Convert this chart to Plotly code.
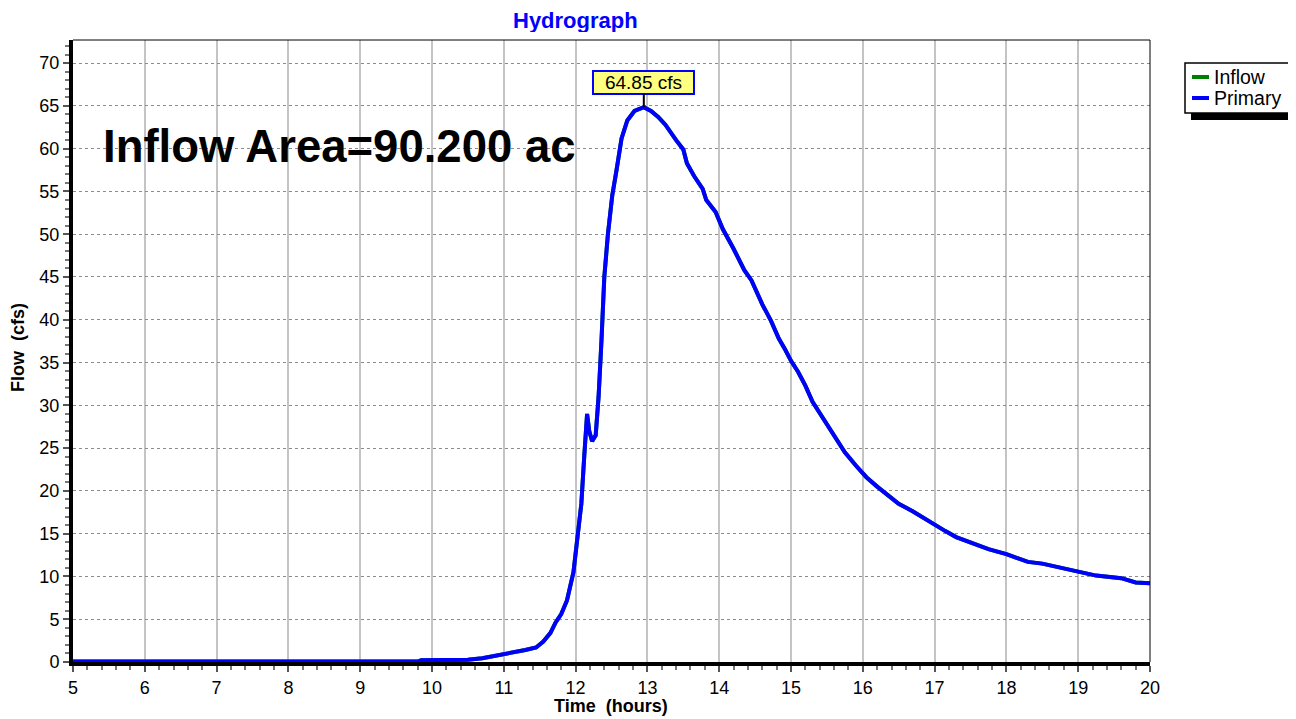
import plotly.graph_objects as go

# hydrograph (time in hours, flow in cfs)
time_hr = [5.0, 9.8, 9.85, 10.5, 10.7, 10.9, 11.1, 11.3, 11.45, 11.55, 11.65, 11.72,
           11.8, 11.88, 11.97, 12.03, 12.08, 12.12, 12.16, 12.19, 12.23, 12.28, 12.32,
           12.36, 12.40, 12.45, 12.51, 12.57, 12.64, 12.72, 12.82, 12.95, 13.05, 13.15,
           13.25, 13.4, 13.5, 13.55, 13.65, 13.77, 13.82, 13.95, 14.05, 14.2, 14.35,
           14.45, 14.6, 14.72, 14.83, 14.92, 15.0, 15.1, 15.2, 15.3, 15.45, 15.6, 15.75,
           15.9, 16.05, 16.2, 16.35, 16.5, 16.7, 16.85, 17.0, 17.15, 17.3, 17.5, 17.75,
           18.0, 18.15, 18.3, 18.5, 18.75, 19.0, 19.25, 19.6, 19.8, 20.0]
flow_cfs = [0.05, 0.05, 0.2, 0.25, 0.45, 0.75, 1.1, 1.4, 1.7, 2.4, 3.4, 4.6,
            5.6, 7.2, 10.5, 14.5, 18.5, 24.0, 29.0, 27.0, 25.8, 26.5, 31.0,
            37.5, 45.0, 50.0, 54.5, 57.5, 61.2, 63.3, 64.4, 64.85, 64.4, 63.7,
            62.8, 61.0, 59.9, 58.3, 56.8, 55.3, 54.0, 52.6, 50.6, 48.3, 45.8,
            44.6, 41.8, 39.9, 37.8, 36.5, 35.2, 33.9, 32.3, 30.4, 28.5, 26.5, 24.5,
            23.0, 21.6, 20.5, 19.5, 18.5, 17.6, 16.8, 16.1, 15.3, 14.6, 14.0, 13.2,
            12.6, 12.2, 11.7, 11.5, 11.0, 10.5, 10.1, 9.8, 9.3, 9.2]

series_names = ["Inflow", "Primary"]
series_colors = ["#008000", "#0000ff"]

peak_time = 12.95
peak_flow = 64.85

FONT = "Arial, Liberation Sans, sans-serif"

# plot area in screen pixels; the page body adds an 8px offset
OFF = 8
L, R, T, B = 73, 1150, 40, 662
W, H = 1296 - OFF, 719 - OFF


def px_x(p):
    return (p - L) / (R - L)


def px_y(p):
    return (B - p) / (B - T)


def label(text, x, y, size, color="black", angle=0, xanchor="center", height=None):
    fig.add_annotation(x=px_x(x), y=px_y(y), xref="paper", yref="paper",
                       xanchor=xanchor, yanchor="middle", text=text, showarrow=False,
                       textangle=angle, height=height, borderpad=0,
                       font=dict(family=FONT, size=size, color=color))


fig = go.Figure()

# inflow sits underneath primary (same hydrograph), so only primary shows
for name, color in zip(series_names, series_colors):
    fig.add_trace(go.Scatter(x=time_hr, y=flow_cfs, mode="lines", name=name,
                             line=dict(color=color, width=4), showlegend=False))

# peak label
fig.add_annotation(
    x=peak_time, y=peak_flow, xref="x", yref="y",
    text="64.85 cfs", showarrow=True, arrowhead=0, arrowwidth=2, arrowcolor="black",
    ax=0, ay=-25, width=97, height=19,
    bgcolor="#ffff80", bordercolor="#0000ff", borderwidth=2, borderpad=1,
    font=dict(family=FONT, size=19, color="black"),
)

# big area label, title and axis titles
label("<b>Inflow Area=90.200 ac</b>", 102, 147, 45.5, xanchor="left")
label("<b>Hydrograph</b>", 575, 20, 22, color="#0000ff", height=24)
label("<b>Time  (hours)</b>", 611, 706, 18)
label("<b>Flow  (cfs)</b>", 18, 348, 18, angle=-90)

# thin frame on top/right
fig.add_shape(type="line", xref="paper", yref="paper", x0=0, x1=1, y0=1, y1=1,
              line=dict(color="black", width=1))
fig.add_shape(type="line", xref="paper", yref="paper", x0=1, x1=1, y0=0, y1=1,
              line=dict(color="black", width=1))

# legend box with drop shadow
fig.add_shape(type="rect", xref="paper", yref="paper",
              x0=px_x(1191), x1=px_x(1297), y0=px_y(120), y1=px_y(69),
              fillcolor="black", line=dict(width=0))
fig.add_shape(type="rect", xref="paper", yref="paper",
              x0=px_x(1185), x1=px_x(1290), y0=px_y(113), y1=px_y(63),
              fillcolor="white", line=dict(color="black", width=1.5))
for i, (name, color) in enumerate(zip(series_names, series_colors)):
    row_y = 77 + 21 * i
    fig.add_shape(type="line", xref="paper", yref="paper",
                  x0=px_x(1192), x1=px_x(1209), y0=px_y(row_y), y1=px_y(row_y),
                  line=dict(color=color, width=4))
    label(name, 1213, row_y, 19.5, xanchor="left")

fig.update_layout(
    width=W, height=H,
    paper_bgcolor="white", plot_bgcolor="white",
    margin=dict(l=L - OFF, r=W - (R - OFF), t=T - OFF, b=H - (B - OFF), autoexpand=False),
    font=dict(family=FONT, size=18, color="black"),
    showlegend=False,
    xaxis=dict(
        range=[5, 20], dtick=1, tick0=5, automargin=False,
        showgrid=True, gridcolor="#c4c4c4", gridwidth=2,
        zeroline=False, showline=True, linecolor="black", linewidth=4,
        ticks="outside", ticklen=6, tickwidth=2, tickcolor="#555",
        minor=dict(dtick=0.2, ticks="outside", ticklen=4, tickwidth=2, tickcolor="#777",
                   showgrid=False),
        tickfont=dict(family=FONT, size=18),
    ),
    yaxis=dict(
        range=[0, 72.7], dtick=5, tick0=0, automargin=False,
        showgrid=True, gridcolor="#8c8c8c", gridwidth=1, griddash="dot",
        zeroline=False, showline=True, linecolor="black", linewidth=4,
        ticks="outside", ticklen=6, tickwidth=2, tickcolor="#555",
        minor=dict(dtick=1, ticks="outside", ticklen=4, tickwidth=2, tickcolor="#777",
                   showgrid=False),
        tickfont=dict(family=FONT, size=18),
    ),
)

fig.write_html("out.html")
